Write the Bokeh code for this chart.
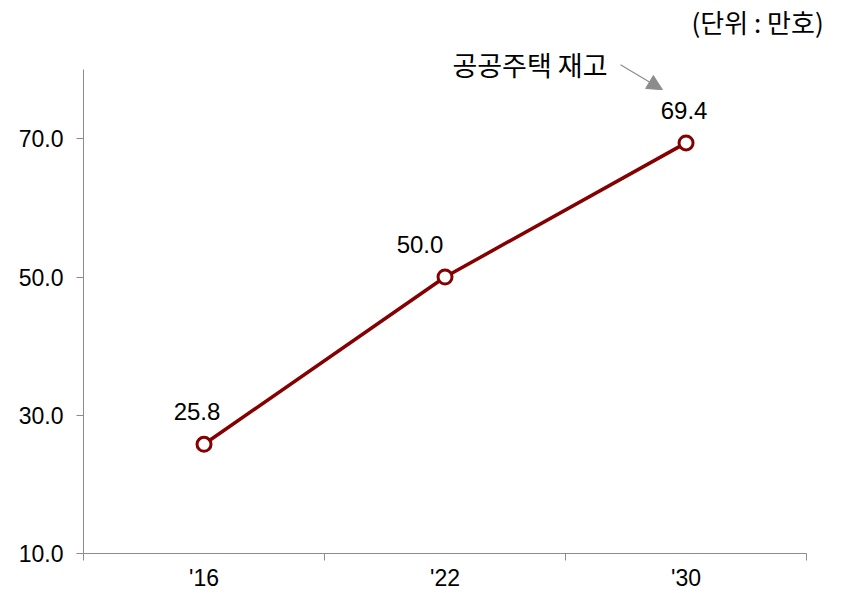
from bokeh.plotting import figure
from bokeh.models import FixedTicker, Label, Arrow, NormalHead, ColumnDataSource
from bokeh.core.properties import value
from bokeh.embed import file_html
from bokeh.resources import INLINE

# data
categories = ["'16", "'22", "'30"]
stock = [25.8, 50.0, 69.4]
label_dx = [-7, -25, -2]
y_ticks = [10, 30, 50, 70]
unit_text = "(단위 : 만호)"
series_name = "공공주택 재고"

FONT = "Liberation Sans"
KFONT = "Noto Sans CJK KR"
RED = "#850000"
GRAY = "#8c8c8c"

xs = list(range(len(categories)))
src = ColumnDataSource(dict(x=xs, y=stock, lbl=[f"{v:.1f}" for v in stock], dx=label_dx))

# frame extends to top/right edges; axis lines limited by bounds
p = figure(width=841, height=593, x_range=(-0.5, 2.645), y_range=(10, 90),
           output_backend="svg", toolbar_location=None,
           min_border_left=83, min_border_right=0, min_border_top=0, min_border_bottom=40)
p.outline_line_color = None
p.xgrid.grid_line_color = None
p.ygrid.grid_line_color = None
p.background_fill_color = "white"
p.border_fill_color = "white"

# y axis
p.yaxis.ticker = FixedTicker(ticks=y_ticks)
p.yaxis.bounds = (10, 80)
p.yaxis.major_label_overrides = {t: f"{t:.1f}" for t in y_ticks}
p.yaxis.axis_line_color = GRAY
p.yaxis.major_tick_line_color = GRAY
p.yaxis.major_tick_in = 0
p.yaxis.major_tick_out = 7
p.yaxis.minor_tick_line_color = None
p.yaxis.major_label_standoff = 13
p.yaxis.major_label_text_font = FONT
p.yaxis.major_label_text_font_size = "23px"
p.yaxis.major_label_text_color = "black"

# x axis
bounds = [i - 0.5 for i in range(len(categories) + 1)]
p.xaxis.ticker = FixedTicker(ticks=xs, minor_ticks=bounds)
p.xaxis.bounds = (-0.5, len(categories) - 0.5)
p.xaxis.major_label_overrides = {i: c for i, c in enumerate(categories)}
p.xaxis.axis_line_color = GRAY
p.xaxis.major_tick_line_color = None
p.xaxis.major_tick_in = 0
p.xaxis.major_tick_out = 0
p.xaxis.minor_tick_line_color = GRAY
p.xaxis.minor_tick_in = 0
p.xaxis.minor_tick_out = 7
p.xaxis.major_label_standoff = 4
p.xaxis.major_label_text_font = FONT
p.xaxis.major_label_text_font_size = "23px"
p.xaxis.major_label_text_color = "black"

# series
p.line("x", "y", source=src, line_color=RED, line_width=3.5)
p.scatter("x", "y", source=src, size=14, fill_color="white", line_color=RED, line_width=3)
p.text("x", "y", text="lbl", source=src, x_offset="dx", y_offset=-24,
       text_align="center", text_baseline="bottom",
       text_font=value(FONT), text_font_size="24px", text_color="black")

# annotations
p.add_layout(Label(x=1.674, y=80.7, text=series_name, text_align="right", text_baseline="middle",
                   text_font=KFONT, text_font_size="27px", text_color="black"))
p.add_layout(Arrow(x_start=1.728, y_start=80.7, x_end=1.902, y_end=77.1,
                   line_color=GRAY, line_width=1.2,
                   end=NormalHead(size=15, fill_color=GRAY, line_color=GRAY)))
p.add_layout(Label(x=2.571, y=86.9, text=unit_text, text_align="right", text_baseline="middle",
                   text_font=KFONT, text_font_size="26px", text_color="black"))

open("out.html", "w").write(file_html(p, INLINE))
